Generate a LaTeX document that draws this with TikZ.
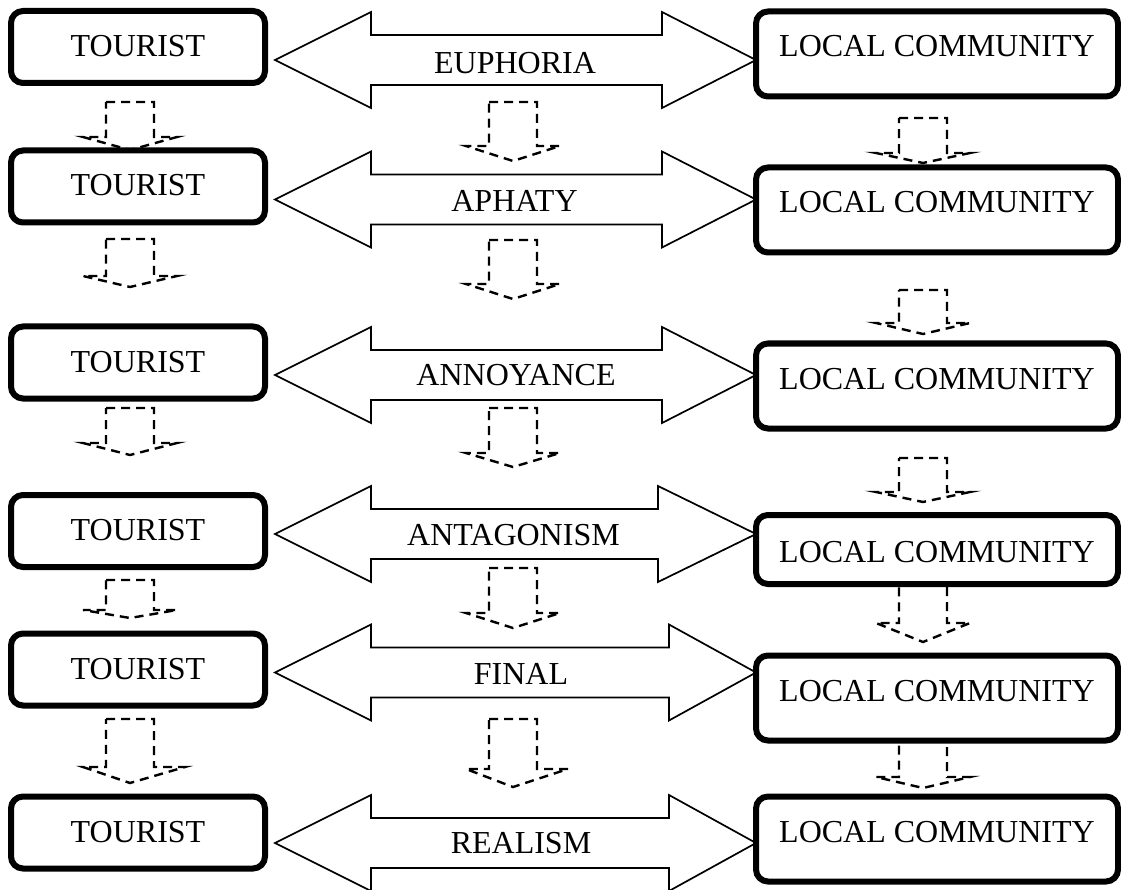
\documentclass[tikz,border=0pt]{standalone}
\usepackage{fontspec}
\setmainfont{Liberation Serif}
\usetikzlibrary{calc,backgrounds}
\tikzset{
  box/.style={draw, rectangle, rounded corners=12pt, line width=6pt, fill=white,
    inner sep=0pt, outer sep=0pt, text height=45.5pt},
  tourist/.style={box, minimum width=254pt, text depth=26.5pt},
  local/.style={box, minimum width=362pt, text depth=39.5pt},
  localshort/.style={box, minimum width=362pt, text height=47.5pt, text depth=21.5pt},
  lbl/.style={inner sep=0pt},
  dblarrow/.style={draw, line width=1.7pt, fill=white, line join=miter},
  dashbox/.style={draw, line width=2.4pt, dash pattern=on 9pt off 6pt},
}
% double block arrow between a tourist box and a local community box
\newcommand\dblarr[4]{%
  \draw[dblarrow] let \p1=(#1.east), \p2=(#2.west), \p3=(#3) in
    (\x1+10pt,\y3) -- (\x1+106pt,\y3+48pt) -- (\x1+106pt,\y3+25pt)
    -- (\x2-#4pt,\y3+25pt) -- (\x2-#4pt,\y3+48pt) -- (\x2,\y3)
    -- (\x2-#4pt,\y3-48pt) -- (\x2-#4pt,\y3-25pt) -- (\x1+106pt,\y3-25pt)
    -- (\x1+106pt,\y3-48pt) -- cycle;}
% dashed down block arrow: x, top, base, tip, right wing
\newcommand\dsharr[5]{%
  \draw[dashbox] (#1-24,#2) -- (#1+24,#2) -- (#1+24,#3) -- (#1+#5,#3)
    -- (#1,#4) -- (#1-47,#3) -- (#1-24,#3) -- cycle;}
\begin{document}
\begin{tikzpicture}[x=1pt, y=-1pt, font=\fontsize{32}{38}\selectfont]
\useasboundingbox (0,0) rectangle (1121,890);

% boxes
\node[tourist] (T1) at (138,47) {TOURIST};
\node[tourist] (T2) at (138,186.5) {TOURIST};
\node[tourist] (T3) at (138,362.5) {TOURIST};
\node[tourist] (T4) at (138,531) {TOURIST};
\node[tourist] (T5) at (138,669.5) {TOURIST};
\node[tourist] (T6) at (138,832.5) {TOURIST};

\node[local] (L1) at (937,54) {LOCAL COMMUNITY};
\node[local] (L2) at (937,210) {LOCAL COMMUNITY};
\node[local] (L3) at (937,386) {LOCAL COMMUNITY};
\node[localshort] (L4) at (937,549.5) {LOCAL COMMUNITY};
\node[local] (L5) at (937,698) {LOCAL COMMUNITY};
\node[local] (L6) at (937,839) {LOCAL COMMUNITY};

% arrow centre lines
\coordinate (c1) at (0,60);
\coordinate (c2) at (0,199.5);
\coordinate (c3) at (0,375);
\coordinate (c4) at (0,534);
\coordinate (c5) at (0,672.5);
\coordinate (c6) at (0,843);

\begin{pgfonlayer}{background}
  \dblarr{T1}{L1}{c1}{94}
  \dblarr{T2}{L2}{c2}{94}
  \dblarr{T3}{L3}{c3}{94}
  \dblarr{T4}{L4}{c4}{98}
  \dblarr{T5}{L5}{c5}{87}
  \dblarr{T6}{L6}{c6}{87}

  % left column
  \dsharr{130}{102}{137}{150}{47}
  \dsharr{130}{239}{276}{287}{47}
  \dsharr{130}{408}{443}{455}{47}
  \dsharr{130}{580}{610}{618}{47}
  \dsharr{130}{719}{767}{783}{55}
  % middle column
  \dsharr{513}{102}{146}{161}{47}
  \dsharr{513}{240}{284}{299}{47}
  \dsharr{513}{408}{453}{467}{47}
  \dsharr{513}{568}{613}{628}{47}
  \dsharr{513}{719}{769}{787}{55}
  % right column
  \dsharr{923}{118}{153}{163}{47}
  \dsharr{923}{290}{323}{334}{47}
  \dsharr{923}{458}{492}{502}{47}
  \dsharr{923}{575}{623}{642}{47}
  \dsharr{923}{735}{777}{788}{47}
\end{pgfonlayer}

% labels
\node[lbl] (a1) at (515,63.5) {EUPHORIA};
\node[lbl] (a2) at (514.5,200.5) {APHATY};
\node[lbl] (a3) at (516,375.5) {ANNOYANCE};
\node[lbl] (a4) at (513.5,535) {ANTAGONISM};
\node[lbl] (a5) at (521,673.5) {FINAL};
\node[lbl] (a6) at (521,843) {REALISM};
\end{tikzpicture}
\end{document}
